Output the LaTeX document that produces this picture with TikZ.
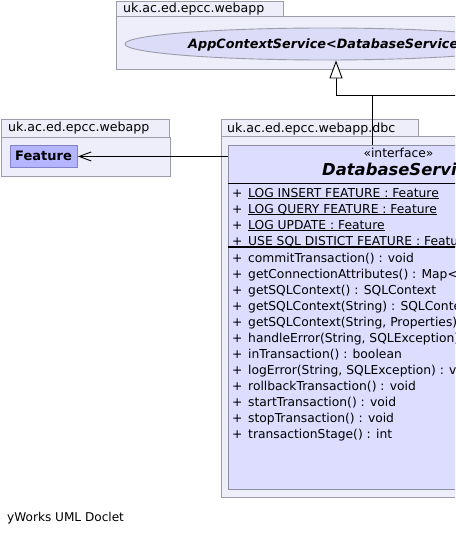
\documentclass[tikz,border=0pt]{standalone}
\usepackage{fontspec}
\setmainfont{DejaVu Sans}[ItalicFont={DejaVu Sans Oblique},BoldItalicFont={DejaVu Sans Bold Oblique}]
\usepackage{xcolor}
\usepackage{tikz}
\usetikzlibrary{arrows.meta,positioning,calc,shapes.geometric}
\definecolor{pkgfill}{HTML}{EEEEFA}
\definecolor{pkgline}{HTML}{9C9CAA}
\definecolor{clsfill}{HTML}{DDDDFF}
\definecolor{clsline}{HTML}{8E8EA2}
\definecolor{featfill}{HTML}{B4B4FF}
\definecolor{featline}{HTML}{8282C8}
\definecolor{ellfill}{HTML}{DCDCF8}
\tikzset{
  pkgbody/.style = {draw=pkgline, fill=pkgfill, rectangle, inner sep=0pt,
                    anchor=north west, line width=0.9pt},
  pkgtab/.style  = {pkgbody},
  cls/.style     = {draw=clsline, fill=clsfill, rectangle, inner sep=0pt,
                    anchor=north west, line width=0.9pt},
  feat/.style    = {draw=featline, fill=featfill, rectangle, inner sep=0pt,
                    anchor=north west, line width=0.9pt},
  ell/.style     = {draw=pkgline, fill=ellfill, ellipse, inner sep=0pt,
                    line width=0.9pt},
  txt/.style     = {inner sep=0pt, anchor=base west,
                    font=\fontsize{12.6}{14}\selectfont},
  member/.style  = {txt, font=\fontsize{12.3}{14}\selectfont},
  uline/.style   = {line width=0.9pt, black},
  sep/.style     = {line width=0.9pt, black},
  thicksep/.style= {line width=2pt, black},
  wire/.style    = {line width=0.9pt, black},
  realize/.style = {wire, -{Triangle[length=18pt,width=13pt,fill=white,line width=0.9pt]}},
  dep/.style     = {wire, -{Straight Barb[length=12pt,width=9pt,line width=0.9pt]}}
}

\begin{document}
\begin{tikzpicture}[x=1pt,y=-1pt]
\useasboundingbox (0,0) rectangle (455,535);
\clip (0,0) rectangle (455,535);

% --- packages ---
\node[pkgbody, minimum width=500pt, minimum height=53pt] (topPkg) at (116,16) {};
\node[pkgtab, minimum width=167pt, minimum height=15pt] (topTab) at (116,1) {};
\node[txt] (topLbl) at (123,13) {uk.ac.ed.epcc.webapp};

\node[pkgbody, minimum width=169pt, minimum height=39pt] (featPkg) at (1,137) {};
\node[pkgtab, minimum width=168pt, minimum height=18pt] (featTab) at (1,119) {};
\node[txt] (featLbl) at (8,131) {uk.ac.ed.epcc.webapp};

\node[pkgbody, minimum width=400pt, minimum height=361pt] (dbcPkg) at (221,136) {};
\node[pkgtab, minimum width=197pt, minimum height=17pt] (dbcTab) at (221,119) {};
\node[txt] (dbcLbl) at (227,132) {uk.ac.ed.epcc.webapp.dbc};

% --- AppContextService ---
\node[ell, minimum width=401pt, minimum height=32pt] (acs) at (325.5,44) {};
\node[txt, font=\fontsize{12.8}{14}\selectfont\bfseries\itshape]
     (acsLbl) at (188,48.5) {AppContextService<DatabaseService>};

% --- Feature ---
\node[feat, minimum width=67pt, minimum height=22pt] (feature) at (10,145) {};
\node[txt, font=\fontsize{13}{14}\selectfont\bfseries] (featName) at (15,160.5) {Feature};

% --- DatabaseService ---
\node[cls, minimum width=342pt, minimum height=344pt] (dbs) at (228,145) {};
\node[txt, anchor=base, font=\fontsize{12.3}{14}\selectfont] (stereo) at (398.5,157) {«interface»};
\node[txt, font=\fontsize{16.4}{18}\selectfont\bfseries\itshape] (dbsName) at (322,175) {DatabaseService};
\draw[sep] ($(dbs.north west)+(0,38)$) -- ($(dbs.north east)+(0,38)$);
\draw[thicksep] ($(dbs.north west)+(0,102)$) -- ($(dbs.north east)+(0,102)$);

% static fields (underlined)
\foreach \a [count=\k from 0] in {LOG INSERT FEATURE, LOG QUERY FEATURE,
                                  LOG UPDATE, USE SQL DISTICT FEATURE} {
  \node[member] (attv\k) at (232,197+16*\k) {+};
  \node[member] (att\k) at (248,197+16*\k) {\a\ : Feature};
  \draw[uline] ($(att\k.base west)+(0,1.8)$) -- ($(att\k.base east)+(0,1.8)$);
}

% operations
\foreach \m [count=\k from 0] in {commitTransaction() : void,
    {getConnectionAttributes() : Map<},
    getSQLContext() : SQLContext,
    getSQLContext(String) : SQLContext,
    {getSQLContext(String, Properties) : SQLContext},
    {handleError(String, SQLException)},
    inTransaction() : boolean,
    {logError(String, SQLException) : void},
    rollbackTransaction() : void,
    startTransaction() : void,
    stopTransaction() : void,
    transactionStage() : int} {
  \node[member] (opv\k) at (232,262+16*\k) {+};
  \node[member] (op\k) at (248,262+16*\k) {\m};
}

% --- connectors ---
\coordinate (bus) at (336,95);
\coordinate (busEnd) at (470,95);
\draw[wire] (bus) -- (busEnd);
\draw[realize] (dbs.north -| 372,0) |- (bus) -- (acs.south -| bus);
\draw[dep] (feature -| dbs.west) -- (feature.east);

% --- footer ---
\node[txt, font=\fontsize{12.1}{14}\selectfont] (doclet) at (7,521.5) {yWorks UML Doclet};

\end{tikzpicture}
\end{document}
